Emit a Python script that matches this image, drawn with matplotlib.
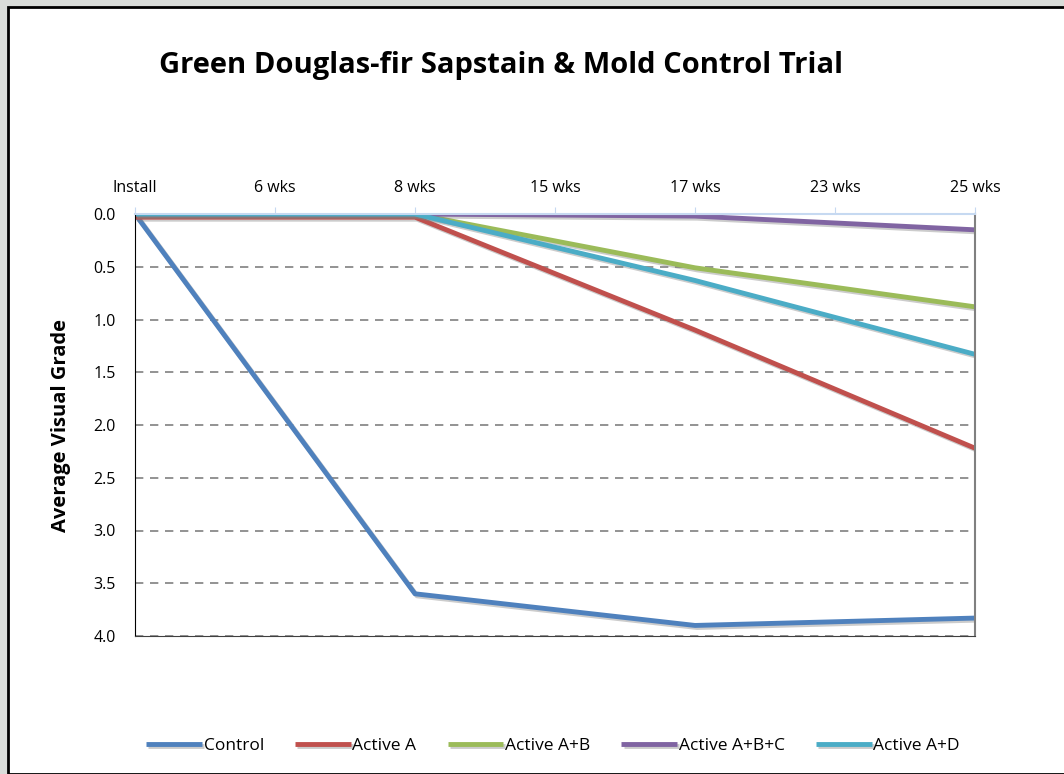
import numpy as np
import matplotlib.pyplot as plt
import matplotlib.patheffects as pe
from matplotlib.patches import Rectangle

# categories along the top axis
weeks = ['Install', '6 wks', '8 wks', '15 wks', '17 wks', '23 wks', '25 wks']

# average visual grade (nan = not rated that week)
control = [0.0, np.nan, 3.6, np.nan, 3.9, np.nan, 3.83]
active_a = [0.03, np.nan, 0.03, np.nan, 1.1, np.nan, 2.22]
active_ab = [0.0, np.nan, 0.0, np.nan, 0.51, np.nan, 0.88]
active_abc = [0.0, np.nan, 0.0, np.nan, 0.02, np.nan, 0.15]
active_ad = [0.0, np.nan, 0.0, np.nan, 0.63, np.nan, 1.33]

series = [('Control', control, '#4F81BD'),
          ('Active A', active_a, '#C0504D'),
          ('Active A+B', active_ab, '#9BBB59'),
          ('Active A+B+C', active_abc, '#8064A2'),
          ('Active A+D', active_ad, '#4BACC6')]

plt.rcParams['font.family'] = ['Open Sans', 'DejaVu Sans']

fig = plt.figure(figsize=(10.64, 7.74), dpi=100)
fig.patch.set_facecolor('#d9dcd9')
# white slide panel with dark frame
fig.patches.append(Rectangle((8 / 1064, 0), 1, 1 - 7 / 774, transform=fig.transFigure,
                             facecolor='white', edgecolor='black', linewidth=2, zorder=-10))

ax = fig.add_axes([135 / 1064, 1 - 636 / 774, 840 / 1064, 422 / 774])
ax.set_facecolor('none')

x = np.arange(len(weeks))
shadow = [pe.SimpleLineShadow(offset=(1.5, -1.5), shadow_color='gray', alpha=0.4), pe.Normal()]
for name, vals, col in series:
    v = np.array(vals, dtype=float)
    m = ~np.isnan(v)
    ax.plot(x[m], v[m], color=col, lw=3.5, label=name, solid_capstyle='butt',
            path_effects=shadow)

ax.set_xlim(0, len(weeks) - 1)
ax.set_ylim(4, 0)
ax.set_yticks(np.arange(0, 4.01, 0.5))
ax.set_yticklabels([f'{t:.1f}' for t in np.arange(0, 4.01, 0.5)], fontsize=11.5)
ax.xaxis.tick_top()
ax.set_xticks(x)
ax.set_xticklabels(weeks, fontsize=11.5)
ax.tick_params(axis='x', length=5, color='#c6d9f1', pad=8)
ax.tick_params(axis='y', length=0, pad=14)
ax.yaxis.grid(True, linestyle=(0, (5, 4)), color='#808080', lw=1.2)
ax.set_axisbelow(True)

ax.spines['top'].set_color('#c6d9f1')
ax.spines['top'].set_linewidth(1.5)
ax.spines['left'].set_color('black')
ax.spines['right'].set_color('#808080')
ax.spines['right'].set_linewidth(1.5)
ax.spines['bottom'].set_color('#404040')

ax.set_ylabel('Average Visual Grade', fontsize=14.5, fontweight='bold', labelpad=16)

fig.text(501 / 1064, 1 - 65 / 774, 'Green Douglas-fir Sapstain & Mold Control Trial',
         ha='center', va='center', fontsize=21, fontweight='bold')

fig.legend(loc='center', bbox_to_anchor=(553 / 1064, 1 - 746 / 774), ncol=5, frameon=False,
           fontsize=12.5, handlelength=3.2, handletextpad=0.1, columnspacing=1.8)

fig.savefig('out.png', dpi=100)
